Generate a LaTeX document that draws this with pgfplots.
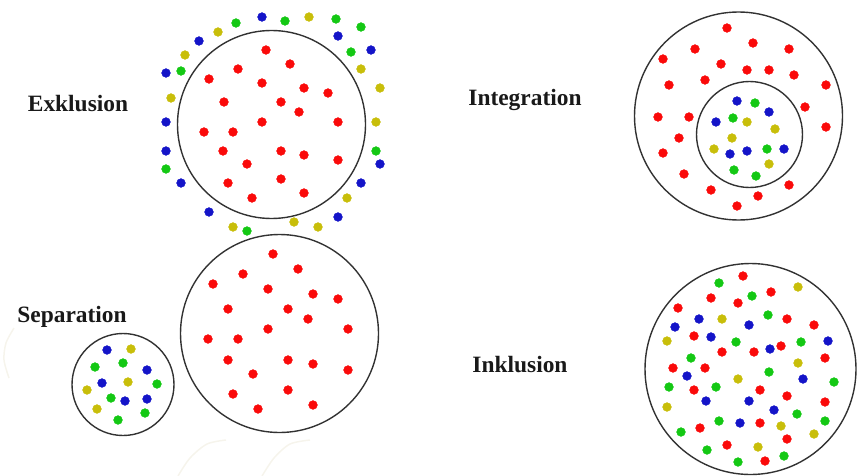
\documentclass[border=0pt]{standalone}
\usepackage{pgfplots}
\pgfplotsset{compat=1.18}
\usepackage{fontspec}
\setmainfont{Liberation Serif}
\definecolor{cred}{RGB}{250,10,10}
\definecolor{cblue}{RGB}{20,20,200}
\definecolor{cgreen}{RGB}{20,200,20}
\definecolor{cyellow}{RGB}{200,190,10}
\definecolor{cline}{RGB}{50,50,50}
\definecolor{cfaint}{RGB}{246,244,236}
\begin{document}
\begin{tikzpicture}
\begin{axis}[
  width=860bp, height=475bp, scale only axis,
  xmin=0, xmax=860, ymin=0, ymax=475, y dir=reverse,
  axis lines=none, clip=true,
]
% keep the full frame as bounding box
\path (axis cs:0,0) rectangle (axis cs:860,475);
% faint background strokes
\addplot[cfaint, line width=1.5pt, smooth, no marks] coordinates {(14,328)(6,343)(4,360)(9,378)};
\addplot[cfaint, line width=1.5pt, smooth, no marks] coordinates {(178,476)(190,458)(207,444)(226,440)};
\addplot[cfaint, line width=1.5pt, smooth, no marks] coordinates {(262,476)(274,458)(290,444)(310,440)};
% circles
\draw[cline, line width=1.4pt] (axis cs:271.5,124.5) circle[radius=94];
\draw[cline, line width=1.4pt] (axis cs:738.5,116) circle[radius=104];
\draw[cline, line width=1.4pt] (axis cs:749.5,134.5) circle[radius=53];
\draw[cline, line width=1.4pt] (axis cs:279.5,333.5) circle[radius=99];
\draw[cline, line width=1.4pt] (axis cs:123,384.5) circle[radius=51];
\draw[cline, line width=1.4pt] (axis cs:750.5,369) circle[radius=105.5];
% red
\addplot[cred, only marks, mark=*, mark size=4.4bp, mark options={draw=cred, fill=cred}] coordinates {
(266,50)(290,64)(238,69)(209,79)(262,83)(304,88)(328,93)(224,102)(281,102)(299,112)(262,122)(338,122)(204,132)(233,132)(223,151)(281,151)(304,155)(338,160)(247,164)(228,183)(281,179)(304,193)(252,198)
(727,28)(753,43)(695,49)(789,49)(663,59)(721,64)(747,70)(769,70)(794,75)(705,80)(669,85)(826,85)(805,107)(658,117)(689,117)(826,127)(679,138)(663,153)(684,174)(711,190)(758,196)(789,185)(737,206)
(273,254)(243,274)(298,269)(213,284)(268,289)(313,294)(338,299)(228,309)(288,309)(308,319)(268,329)(348,329)(208,339)(238,339)(228,360)(288,360)(313,364)(348,370)(253,374)(233,394)(288,390)(313,405)(258,409)
(743,276)(711,298)(771,292)(738,303)(678,308)(787,319)(814,325)(694,336)(722,352)(754,352)(781,346)(825,358)(673,368)(705,368)(694,390)(760,390)(787,396)(825,402)(760,423)(700,428)(787,439)(727,445)(765,461)
};
% blue
\addplot[cblue, only marks, mark=*, mark size=4.4bp, mark options={draw=cblue, fill=cblue}] coordinates {
(262,17)(338,36)(199,41)(166,73)(371,50)(166,122)(166,151)(181,183)(209,212)(338,217)(361,183)(380,164)
(737,101)(769,112)(716,122)(730,154)(747,151)(784,149)
(107,350)(147,370)(102,383)(125,401)(147,399)
(699,319)(675,327)(749,325)(711,337)(828,341)(770,349)(687,376)(803,379)(706,401)(749,401)(774,410)(740,423)
};
% green
\addplot[cgreen, only marks, mark=*, mark size=4.4bp, mark options={draw=cgreen, fill=cgreen}] coordinates {
(285,21)(336,19)(361,27)(236,23)(181,71)(351,52)(166,169)(247,231)(376,151)
(755,103)(733,118)(767,149)(734,170)(756,176)
(95,367)(123,363)(157,384)(111,398)(145,413)(118,420)
(719,283)(752,296)(768,315)(736,342)(801,342)(691,358)(769,372)(834,382)(669,387)(716,387)(797,414)(825,421)(719,421)(681,432)(707,450)(784,456)(738,462)
};
% yellow
\addplot[cyellow, only marks, mark=*, mark size=4.4bp, mark options={draw=cyellow, fill=cyellow}] coordinates {
(309,17)(218,32)(185,55)(171,98)(361,69)(380,88)(376,122)(233,227)(294,222)(318,227)(347,198)
(747,122)(775,129)(732,138)(714,149)(769,164)
(131,349)(128,382)(87,390)(97,409)
(798,287)(722,319)(667,341)(798,363)(738,379)(667,407)(781,426)(814,434)(758,447)
};
% labels
\node[text=black!90, font=\bfseries\fontsize{23.5}{28}\selectfont] at (axis cs:78,104) {Exklusion};
\node[text=black!90, font=\bfseries\fontsize{23.5}{28}\selectfont] at (axis cs:525,100) {Integration};
\node[text=black!90, font=\bfseries\fontsize{23.5}{28}\selectfont] at (axis cs:72,317) {Separation};
\node[text=black!90, font=\bfseries\fontsize{23.5}{28}\selectfont] at (axis cs:520,365) {Inklusion};
\end{axis}
\end{tikzpicture}
\end{document}
